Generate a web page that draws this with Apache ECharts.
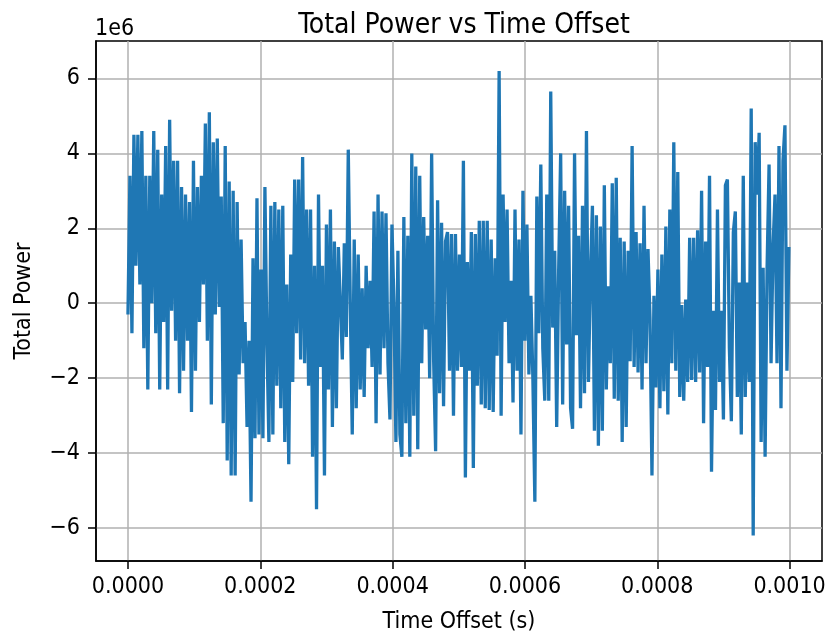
<!DOCTYPE html>
<html lang="en">
<head>
    <meta charset="UTF-8">
    <title>Total Power vs Time Offset</title>
    <script src="https://cdn.jsdelivr.net/npm/echarts@6/dist/echarts.min.js"></script>
    <style>
        body { margin: 0; background: #fff; }
    </style>
</head>
<body>
    <div id="main" style="width: 830px; height: 637px;"></div>
    <script>
        // sample spacing of the trace (s)
        const sampleStep = 3e-6;

        // total power, in units of 1e6 left to right
        const powerPart1 = [-0.3, 3.4, -0.8, 4.5, 1.0, 4.5, 0.5, 4.6, -1.2, 3.4, -2.3, 3.4, 0.0, 4.6, -0.8, 4.1,
            -2.3, 2.9, -0.5, 4.2, -2.3, 4.9, -0.2, 3.8, -1.0, 3.8, -2.4, 3.1, -1.8, 2.9, -1.0, 2.7, -2.9, 3.8,
            -1.8, 3.1, -0.5, 3.4, 0.5, 4.8, -1.0, 5.1, -2.7, 4.3, -0.3, 4.4, -0.1, 2.85, -3.2, 4.2, -4.2, 3.25, -4.6];
        const powerPart2 = [3.0, -4.6, 2.7, -1.9, 1.7, -1.6, -0.5, -3.3, -1.0, -5.3, 1.2, -3.6, 2.8, -3.5, 0.9, -3.6,
            3.1, -1.0, -3.7, 2.6, -3.5, 2.7, -2.2, 2.5, -2.8, 2.6, -3.7, 0.5, -4.3, 1.3, -2.1, 3.3, -0.8, 3.3,
            -1.5, 3.9, -1.6, 2.5, -2.2, 2.5, -4.1, 1.0, -5.5, 2.9, -1.7, 1.0, -4.6, 2.1, -2.3, 2.5, -3.3, 1.65, -2.8, 1.5];
        const powerPart3 = [1.5, -1.5, 1.6, -0.9, 4.1, 0.0, -3.5, 1.7, -2.8, 1.3, -2.3, 0.4, -2.5, 1.0, -1.2, 0.6,
            -1.7, 2.45, -3.2, 2.9, -1.9, 2.45, -1.2, 2.4, -1.6, -3.1, 2.1, 0.0, -3.7, 1.4, -3.5, -4.1, 2.3, -3.2,
            1.8, -4.1, 4.0, -3.0, 3.65, -3.9, 3.4, -1.6, 2.3, -0.7, 1.8, -2.0, 4.0, -1.5, -3.95, 2.75, -2.4, 2.15, -2.75, 1.65];
        const powerPart4 = [1.9, -1.8, 1.85, -3.0, 1.85, -1.8, 1.3, -1.7, 3.8, -4.65, 1.1, -1.8, 1.9, -4.4, 1.85, -2.2,
            2.2, -2.7, 2.2, -2.8, 2.2, -2.85, 1.7, -2.9, 1.2, -1.4, 6.2, -3.0, 2.9, -0.5, 2.5, -1.6, 0.6, -2.65,
            2.5, -1.8, 1.7, -3.5, 3.0, -1.0, 2.1, -1.9, 0.2, -2.0, -5.3, 2.85, -0.8, 3.7, -1.2, -2.6, 2.9, -2.6,
            5.65, -0.65, 1.4, -3.3, 0.9];
        const powerPart5 = [4.0, -2.7, 3.0, -1.1, 2.6, -2.8, -3.35, 4.0, -0.85, 1.8, -2.8, 2.6, -2.4, 4.6, -2.1, 0.8,
            2.6, -3.4, 2.35, -3.8, 2.05, -3.4, 3.15, -2.3, 0.45, -1.6, 3.2, -2.55, 3.35, -2.6, 1.75, -3.7, 1.65,
            -3.3, 1.4, -1.55, 4.2, -1.7, 1.9, -1.85, 1.6, -2.3, 2.6, -1.6, 1.45, -0.4, -4.6, 0.2, -2.25, 0.9,
            -2.8, 1.3, -2.35, 2.05, -2.97, 2.5, -1.6];
        const powerPart6 = [4.3, -1.8, 3.5, -2.5, -0.05, -2.6, 0.1, -2.1, 1.75, -2.05, 1.75, -2.1, 1.95, -1.85, 3.0,
            -3.2, 1.65, -1.7, 3.4, -4.5, -0.2, -2.85, 2.5, -2.1, -0.2, -3.1, 3.15, 3.3, -1.2, -3.15, 1.9, 2.45,
            -2.5, 0.55, -3.5, 3.4, -2.5, 0.55, -2.1, 5.2, -6.2, 4.3, 2.9, 4.55, -3.7, 0.95, -4.1, 0.95, 3.7, -1.6,
            1.5, 2.9, -1.6, 4.2, -2.8, 3.8, 4.75, -1.8, 1.5];

        const xTicks = [0, 0.0002, 0.0004, 0.0006, 0.0008, 0.0010];
        const yTicks = [-6, -4, -2, 0, 2, 4, 6];

        const power = [].concat(powerPart1, powerPart2, powerPart3, powerPart4, powerPart5, powerPart6);
        const points = power.map(function (v, i) {
            return [i * sampleStep, v];
        });

        const font = "'DejaVu Sans Condensed', 'DejaVu Sans'";
        var myChart = echarts.init(document.getElementById('main'));
        var option = {
            animation: false,
            backgroundColor: '#fff',
            title: {
                text: 'Total Power vs Time Offset',
                left: 459,
                top: 7,
                textAlign: 'center',
                textStyle: { fontFamily: font, fontSize: 28, fontWeight: 'normal', color: '#000' }
            },
            graphic: [{
                type: 'text',
                left: 95,
                top: 18,
                style: { text: '1e6', fontFamily: font, fontSize: 23, fill: '#000' }
            }],
            grid: {
                left: 96,
                right: 8,
                top: 41,
                bottom: 76,
                outerBoundsMode: 'none',
                show: true,
                borderColor: '#000',
                borderWidth: 1.5
            },
            xAxis: {
                type: 'value',
                min: -0.0000483,
                max: 0.001049,
                name: 'Time Offset (s)',
                nameLocation: 'middle',
                nameGap: 50,
                nameTextStyle: { fontFamily: font, fontSize: 23, color: '#000' },
                axisLine: { show: true, onZero: false, lineStyle: { color: '#000', width: 1.5 } },
                axisTick: { show: true, length: 8, customValues: xTicks, lineStyle: { color: '#000', width: 1.5 } },
                axisLabel: {
                    customValues: xTicks,
                    margin: 15,
                    fontFamily: font,
                    fontSize: 23,
                    color: '#000',
                    formatter: function (v) { return v.toFixed(4); }
                },
                splitLine: { show: true, lineStyle: { color: '#b0b0b0', width: 1.5 } }
            },
            yAxis: {
                type: 'value',
                min: -6.88,
                max: 7.0,
                name: 'Total Power',
                nameLocation: 'middle',
                nameGap: 60,
                nameTextStyle: { fontFamily: font, fontSize: 23, color: '#000' },
                axisLine: { show: true, onZero: false, lineStyle: { color: '#000', width: 1.5 } },
                axisTick: { show: true, length: 8, customValues: yTicks, lineStyle: { color: '#000', width: 1.5 } },
                axisLabel: {
                    customValues: yTicks,
                    margin: 16,
                    fontFamily: font,
                    fontSize: 23,
                    color: '#000',
                    formatter: function (v) { return v < 0 ? '\u2212' + Math.abs(v) : String(v); }
                },
                splitLine: { show: true, lineStyle: { color: '#b0b0b0', width: 1.5 } }
            },
            series: [{
                type: 'line',
                data: points,
                showSymbol: false,
                sampling: 'none',
                lineStyle: { color: '#1f77b4', width: 3.3 },
                itemStyle: { color: '#1f77b4' }
            }]
        };
        myChart.setOption(option);
    </script>
</body>
</html>
